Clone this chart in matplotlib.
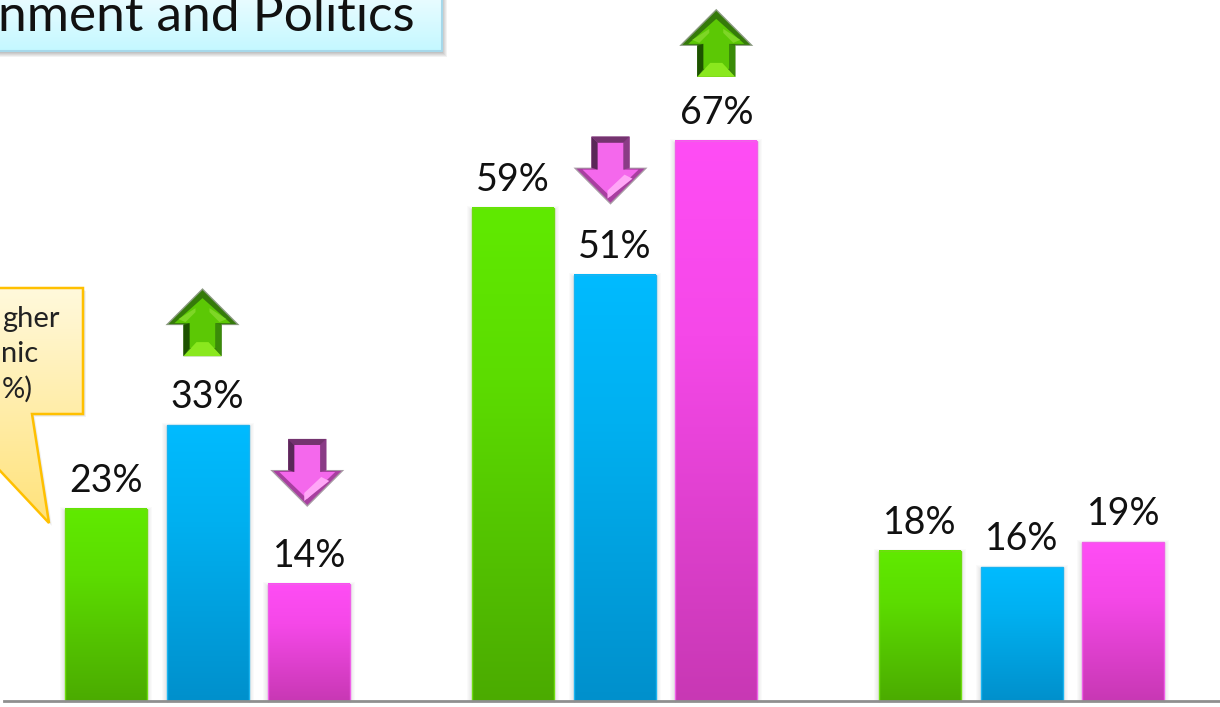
import matplotlib
matplotlib.use('Agg')
import matplotlib.pyplot as plt
from matplotlib.colors import LinearSegmentedColormap
from matplotlib.patches import Polygon, Rectangle
import numpy as np

plt.rcParams['font.family'] = ['Lato', 'DejaVu Sans']

series_names = ['green', 'blue', 'magenta']
green_values = [23, 59, 18]
blue_values = [33, 51, 16]
magenta_values = [14, 67, 19]
title_text = 'nment and Politics'
callout_lines = ['gher', 'nic', '%)']

# series, group, direction of the arrows
arrow_series = ['blue', 'magenta', 'magenta', 'blue']
arrow_groups = [0, 1, 0, 1]
arrow_dirs = ['up', 'up', 'down', 'down']
arrow_shift = [-5, 0, -2, -4]
arrow_gap = [137, 132, 145, 138]

# scale of the picture, px per group and px per percent
X = 407.0
Y = 8.36
BASE = 701.0
W, H = 1220, 707

fig = plt.figure(figsize=(12.2, 7.07), dpi=100)
ax = fig.add_axes([0, 0, 1, 1])
x0 = 207.5


def px(x):
    return (x - x0) / X


def py(y):
    return (BASE - y) / Y


grad_top = {'green': '#60ea00', 'blue': '#00bbff', 'magenta': '#ff4df5'}
grad_mid = {'green': '#5cdc00', 'blue': '#00b0f0', 'magenta': '#f548e8'}
grad_bot = {'green': '#4bab00', 'blue': '#0090cc', 'magenta': '#c838b4'}
edge_col = {'green': '#6fdc10', 'blue': '#1cb4f0', 'magenta': '#f060e8'}
values = {'green': green_values, 'blue': blue_values, 'magenta': magenta_values}
offsets = {'green': -0.25, 'blue': 0.0, 'magenta': 0.25}
bar_w = 82 / X


def gradient(x1, x2, y1, y2, colors, zorder, clip=None):
    cmap = LinearSegmentedColormap.from_list('g', colors)
    g = np.linspace(0, 1, 256).reshape(-1, 1)
    im = ax.imshow(g, extent=[x1, x2, y1, y2], origin='upper', cmap=cmap,
                   aspect='auto', zorder=zorder, interpolation='bilinear')
    if clip is not None:
        im.set_clip_path(clip)
    return im


# bars
for name in series_names:
    for i, v in enumerate(values[name]):
        c = i + offsets[name]
        l = c - bar_w / 2
        r = c + bar_w / 2
        for k in range(1, 6):
            ax.add_patch(Rectangle((l - k / X, 0), bar_w + 2 * k / X, v + (k - 3) / Y,
                                   fc='black', ec='none', alpha=0.018, zorder=1))
        gradient(l, r, 0, v, [(0, grad_top[name]), (0.35, grad_mid[name]), (1, grad_bot[name])], 2)
        ax.plot([l, l, r, r], [0, v, v, 0], color=edge_col[name], lw=1, zorder=3,
                solid_joinstyle='miter')
        ax.text(c, v + 17 / Y, '%d%%' % v, ha='center', va='baseline', fontsize=27,
                color='#111111', zorder=6)

# baseline
ax.plot([px(4), px(W)], [0, 0], color='#8f8f8f', lw=2, zorder=4)


def arrow(cx, top, up):
    # shape is given in px from the centre top of the arrow box, 74 x 68
    def P(pts):
        res = []
        for a, b in pts:
            yy = b if up else 68 - b
            res.append((px(cx + a), py(top + yy)))
        return res

    if up:
        fills = [
            ([(0, 0), (37, 37), (19, 37), (19, 68), (-19, 68), (-19, 37), (-37, 37)], '#8a9a80'),
            ([(0, 2), (34, 36), (19, 36), (19, 68), (-19, 68), (-19, 36), (-34, 36)], '#357a0a'),
            ([(0, 10), (28, 35), (13, 35), (13, 60), (-13, 60), (-13, 35), (-28, 35)], '#5cc805'),
            ([(-19, 37), (-13, 35), (-13, 60), (-19, 68)], '#1d5200'),
            ([(19, 37), (13, 35), (13, 60), (19, 68)], '#3a8c08'),
            ([(-19, 68), (-6, 54), (6, 54), (19, 68)], '#8ae81e'),
            ([(-24, 31), (-7, 20), (-7, 24), (-17, 34)], '#7ed626'),
            ([(24, 31), (7, 20), (7, 24), (17, 34)], '#7ed626'),
        ]
    else:
        fills = [
            ([(0, 0), (37, 37), (19, 37), (19, 68), (-19, 68), (-19, 37), (-37, 37)], '#a89aa6'),
            ([(0, 2), (34, 36), (19, 36), (19, 68), (-19, 68), (-19, 36), (-34, 36)], '#a83fa0'),
            ([(0, 8), (28, 35), (13, 35), (13, 62), (-13, 62), (-13, 35), (-28, 35)], '#f468ec'),
            ([(-19, 37), (-13, 35), (-13, 62), (-19, 68)], '#5a2858'),
            ([(19, 37), (13, 35), (13, 62), (19, 68)], '#8a3c86'),
            ([(-19, 68), (-13, 62), (13, 62), (19, 68)], '#74346f'),
            ([(-3, 6), (22, 26), (14, 30), (-3, 14)], '#ffa6f7'),
        ]
    for pts, col in fills:
        ax.add_patch(Polygon(P(pts), closed=True, fc=col, ec='none', zorder=5))


for s, g, d, sh, gap in zip(arrow_series, arrow_groups, arrow_dirs, arrow_shift, arrow_gap):
    cx = x0 + (g + offsets[s]) * X + sh
    arrow(cx, BASE - values[s][g] * Y - gap, d == 'up')

# title box
for k in range(1, 6):
    ax.add_patch(Rectangle((px(-10), py(51 + k + 1)), (452 + k) / X, 70 / Y, fc='black',
                           ec='none', alpha=0.05, zorder=7))
gradient(px(-10), px(442), py(51), py(-5), ['#ecfcff', '#c4f8ff'], 8)
ax.plot([px(-10), px(442), px(442)], [py(51), py(51), py(-5)], color='#a6d8ea', lw=1.5, zorder=9)
ax.text(px(415), py(31), title_text, ha='right', va='baseline', fontsize=37,
        color='#111111', zorder=10)

# callout
call_pts = [(-10, 288), (83, 288), (83, 414), (32, 414), (49, 523), (-10, 460)]
call_xy = [(px(a), py(b)) for a, b in call_pts]
for k in range(1, 4):
    ax.add_patch(Polygon([(px(a + k), py(b + k)) for a, b in call_pts], closed=True,
                         fc='black', ec='none', alpha=0.05, zorder=5))
call_patch = Polygon(call_xy, closed=True, fc='none', ec='#ffc000', lw=1.8, zorder=8)
ax.add_patch(call_patch)
gradient(px(-10), px(83), py(523), py(288), ['#fff9dc', '#ffe27a'], 7, clip=call_patch)
for txt, right, base in zip(callout_lines, [60, 38, 33], [327, 362, 398]):
    ax.text(px(right), py(base), txt, ha='right', va='baseline', fontsize=21,
            color='#222222', zorder=9)

ax.set_xlim(px(0), px(W))
ax.set_ylim(py(H), py(0))
ax.axis('off')
fig.savefig('out.png', dpi=100)
